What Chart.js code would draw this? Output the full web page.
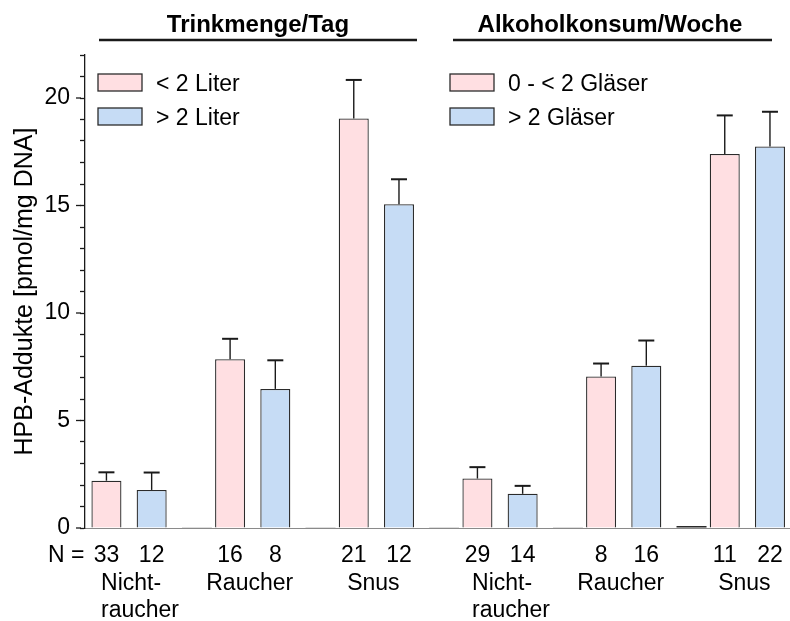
<!DOCTYPE html>
<html>
<head>
<meta charset="utf-8">
<script src="https://cdn.jsdelivr.net/npm/chart.js@4.4.1/dist/chart.umd.min.js"></script>
<style>
  html, body { margin: 0; padding: 0; background: #fff; overflow: hidden; }
</style>
</head>
<body>
<canvas id="c" width="790" height="621"></canvas>
<script>
// HPB-Addukte nach Trinkmenge und Alkoholkonsum
const GROUPS = [['Nicht-', 'raucher'], ['Raucher'], ['Snus'], ['Nicht-', 'raucher'], ['Raucher'], ['Snus']];
const N_LOW = [33, 16, 21, 29, 8, 11];
const N_HIGH = [12, 8, 12, 14, 16, 22];
const MEAN_LOW = [2.2, 7.85, 19.05, 2.3, 7.05, 17.4];
const MEAN_HIGH = [1.77, 6.47, 15.06, 1.59, 7.55, 17.75];
const ERR_LOW = [0.39, 0.95, 1.79, 0.53, 0.6, 1.79];
const ERR_HIGH = [0.81, 1.33, 1.16, 0.37, 1.17, 1.61];
const SPACER = [0.03, 0.03, 0.03, 0.03, 0.09, null];
const PANELS = ['Trinkmenge/Tag', 'Alkoholkonsum/Woche'];
const LEGENDS = [['< 2 Liter', '> 2 Liter'], ['0 - < 2 Gläser', '> 2 Gläser']];
const Y_TITLE = 'HPB-Addukte [pmol/mg DNA]';
const Y_MAX = 22;

const INK = '#1a1a1a', EDGE = '#2b2b2b', PINK = '#ffdfe2', BLUE = '#c6dcf5', AXIS_X = '#8a8a8a';
const FONT = "'Liberation Sans', Arial, sans-serif";

const pts = (arr) => arr.map((v, i) => ({ x: i, y: v }));

const decor = {
  id: 'decor',
  afterDraw(chart) {
    const { ctx, chartArea: area, scales: { y } } = chart;
    const low = chart.getDatasetMeta(0).data, high = chart.getDatasetMeta(1).data;
    ctx.save();

    // Fehlerbalken (nur nach oben)
    [[low, MEAN_LOW, ERR_LOW], [high, MEAN_HIGH, ERR_HIGH]].forEach(([bars, m, e]) => {
      bars.forEach((bar, i) => {
        const top = y.getPixelForValue(m[i]), tip = y.getPixelForValue(m[i] + e[i]);
        ctx.strokeStyle = INK;
        ctx.lineWidth = 1.4;
        ctx.beginPath(); ctx.moveTo(bar.x, top); ctx.lineTo(bar.x, tip); ctx.stroke();
        ctx.lineWidth = 2;
        ctx.beginPath(); ctx.moveTo(bar.x - 8, tip); ctx.lineTo(bar.x + 8, tip); ctx.stroke();
      });
    });

    // lange Striche bei 0, 5, 10 ...
    ctx.lineWidth = 1.3;
    for (let v = 0; v <= Y_MAX; v += 5) {
      const py = y.getPixelForValue(v);
      ctx.beginPath(); ctx.moveTo(area.left - 9, py); ctx.lineTo(area.left - 4, py); ctx.stroke();
    }

    // Überschriften mit Linie
    const heads = [{ cx: 258, x0: 99, x1: 417 }, { cx: 610, x0: 453, x1: 772 }];
    ctx.fillStyle = '#000';
    ctx.font = `bold 24px ${FONT}`;
    ctx.textAlign = 'center';
    ctx.textBaseline = 'alphabetic';
    heads.forEach((h, k) => {
      ctx.fillText(PANELS[k], h.cx, 32);
      ctx.lineWidth = 2.5;
      ctx.beginPath(); ctx.moveTo(h.x0, 40); ctx.lineTo(h.x1, 40); ctx.stroke();
    });

    // Legenden
    const legX = [98, 450];
    ctx.font = `23px ${FONT}`;
    ctx.textAlign = 'left';
    LEGENDS.forEach((items, k) => {
      items.forEach((txt, j) => {
        const by = 74 + j * 34;
        ctx.fillStyle = j ? BLUE : PINK;
        ctx.fillRect(legX[k], by, 44, 17);
        ctx.lineWidth = 1.3;
        ctx.strokeStyle = EDGE;
        ctx.strokeRect(legX[k], by, 44, 17);
        ctx.fillStyle = '#000';
        ctx.fillText(txt, legX[k] + 58, by + 17);
      });
    });

    // N-Zeile und Gruppennamen
    ctx.fillText('N =', 48, 562);
    ctx.textAlign = 'center';
    low.forEach((bar, i) => {
      ctx.fillText(String(N_LOW[i]), bar.x, 562);
      ctx.fillText(String(N_HIGH[i]), high[i].x, 562);
      const mid = (bar.x + high[i].x) / 2;
      const lines = GROUPS[i];
      if (lines.length > 1) {
        ctx.textAlign = 'left';
        lines.forEach((l, j) => ctx.fillText(l, mid - 28, 590 + j * 27));
        ctx.textAlign = 'center';
      } else {
        ctx.fillText(lines[0], mid - 3, 590);
      }
    });
    ctx.restore();
  },
};

new Chart(document.getElementById('c'), {
  type: 'bar',
  data: {
    datasets: [
      { data: pts(MEAN_LOW), backgroundColor: PINK },
      { data: pts(MEAN_HIGH), backgroundColor: BLUE },
      { data: pts(SPACER), backgroundColor: INK, borderWidth: 0 },
    ],
  },
  options: {
    responsive: false,
    animation: false,
    devicePixelRatio: 1,
    layout: { padding: { top: 55, right: 0, left: 0, bottom: 0 } },
    datasets: { bar: { categoryPercentage: 1.097, barPercentage: 0.664, borderWidth: 1.3, borderColor: EDGE } },
    plugins: { legend: { display: false }, tooltip: { enabled: false } },
    scales: {
      x: {
        type: 'linear',
        offset: false,
        min: -0.539,
        max: 5.162,
        afterBuildTicks: (s) => { s.ticks = GROUPS.map((g, i) => ({ value: i })); },
        afterFit: (s) => { s.height = 93; },
        ticks: { display: false },
        grid: { display: false, drawTicks: false, offset: false },
        border: { display: true, color: AXIS_X, width: 1 },
      },
      y: {
        min: 0,
        max: Y_MAX,
        afterFit: (s) => { s.width = 85; },
        ticks: {
          stepSize: 1,
          autoSkip: false,
          padding: 10,
          color: '#000',
          font: { family: FONT, size: 23 },
          callback: (v) => (v % 5 === 0 ? v : ''),
        },
        grid: { drawOnChartArea: false, tickLength: 5, tickColor: INK, tickWidth: 1.3 },
        border: { color: INK, width: 1.3 },
        title: { display: true, text: Y_TITLE, color: '#000', font: { family: FONT, size: 25 }, padding: { top: 10, bottom: 0 } },
      },
    },
  },
  plugins: [decor],
});
</script>
</body>
</html>
